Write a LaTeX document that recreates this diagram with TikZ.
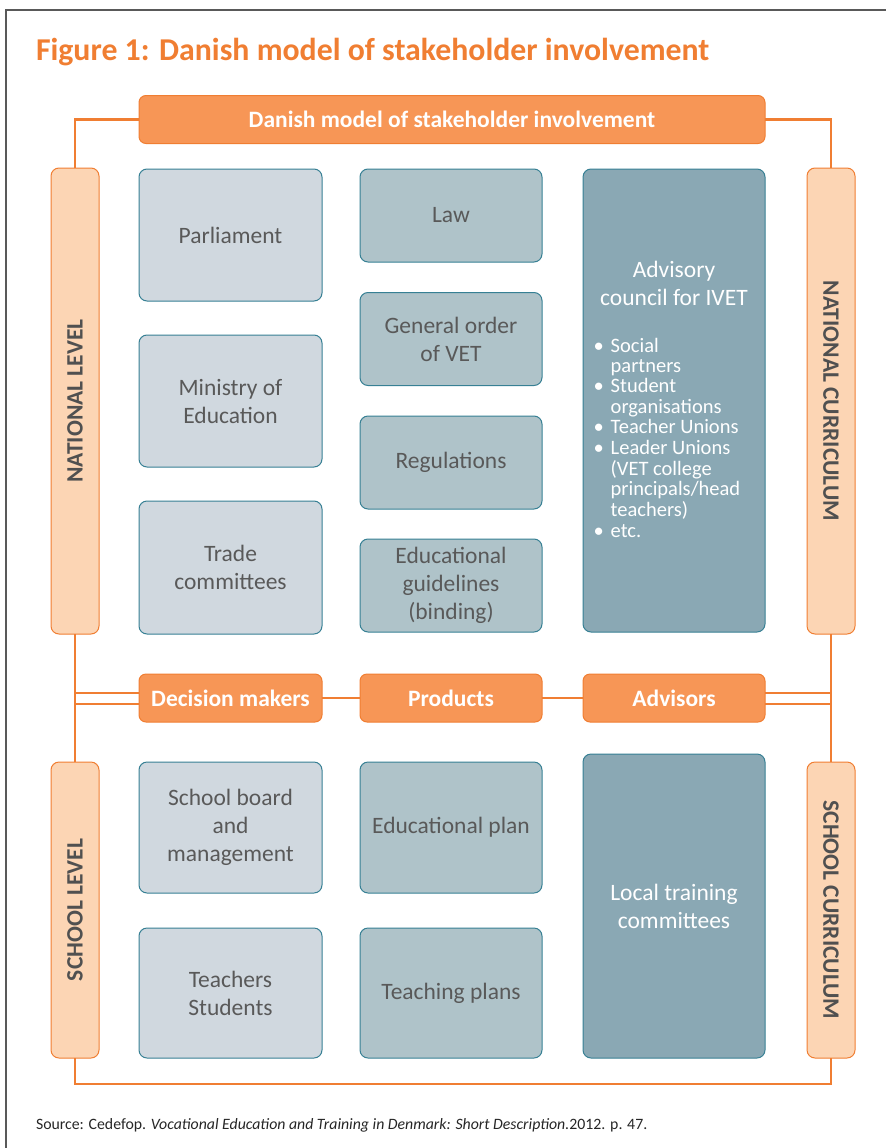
\documentclass[tikz,border=0pt]{standalone}
\usepackage{fontspec}
\setmainfont{Carlito}
\usepackage{graphicx}
\usetikzlibrary{positioning}
\definecolor{figorange}{RGB}{240,126,50}
\definecolor{boxorange}{RGB}{247,150,86}
\definecolor{peach}{RGB}{252,213,180}
\definecolor{paleblue}{RGB}{208,216,223}
\definecolor{midblue}{RGB}{175,195,201}
\definecolor{darkblue}{RGB}{138,168,180}
\definecolor{tealedge}{RGB}{55,128,148}
\definecolor{boxtext}{RGB}{89,89,89}
\definecolor{sidetext}{RGB}{80,80,80}
\newcommand{\fsz}[2]{\fontsize{#1}{#2}\selectfont}

\begin{document}
\begin{tikzpicture}[x=1pt, y=1pt, yscale=-1, every node/.style={outer sep=0pt, inner sep=2pt},
    panel/.style={draw=tealedge, line width=1pt, rounded corners=8pt, align=center, text=boxtext, font=\fsz{23.5}{28}},
    decider/.style={panel, fill=paleblue, minimum width=183pt},
    product/.style={panel, fill=midblue, minimum width=182pt, minimum height=93pt},
    advisor/.style={panel, fill=darkblue, text=white, minimum width=182pt},
    banner/.style={draw=figorange, line width=1pt, fill=boxorange, rounded corners=7pt, text=white, font=\bfseries\fsz{23.5}{26}, minimum height=48pt},
    level/.style={draw=figorange, line width=1pt, fill=peach, rounded corners=8pt, text=sidetext, font=\bfseries\fsz{23.5}{26}, minimum width=48pt},
    link/.style={draw=figorange, line width=2.5pt}]
    \useasboundingbox (0,0) rectangle (886,1148);
    \draw[gray!70!black, line width=1.5pt] (6,1148) -- (6,10) -- (886,10);

    \node[anchor=base west, text=figorange, font=\bfseries\fsz{31.8}{34}] (title) at (34,61) {Figure 1: Danish model of stakeholder involvement};
    \node[banner, minimum width=626pt] (head) at (452,119.5) {Danish model of stakeholder involvement};

    % national level
    \node[level, minimum height=466pt] (natl) at (75,401) {\rotatebox{90}{NATIONAL LEVEL}};
    \node[level, minimum height=466pt] (natc) at (831,401) {\rotatebox{-90}{NATIONAL CURRICULUM}};

    \node[decider, minimum height=132pt] (parl) at (230.5,235) {Parliament};
    \node[decider, minimum height=132pt] (mini) at (230.5,401) {Ministry of\\Education};
    \node[decider, minimum height=133pt] (trade) at (230.5,567.5) {Trade\\committees};

    \node[product] (law) at (451,215.5) {Law};
    \node[product] (gen) at (451,339) {General order\\of VET};
    \node[product] (regs) at (451,462.5) {Regulations};
    \node[product] (guide) at (451,585.5) {Educational\\guidelines\\(binding)};

    \node[advisor, minimum height=463pt] (advc) at (674,400.5) {\begin{tabular}{@{}c@{}}
        Advisory\\ council for IVET\\[24pt]
        {\fsz{20.5}{20.4}\begin{tabular}{@{}p{17pt}@{}l@{}}
            \textbullet & Social\\ & partners\\
            \textbullet & Student\\ & organisations\\
            \textbullet & Teacher Unions\\
            \textbullet & Leader Unions\\ & (VET college\\ & principals/head\\ & teachers)\\
            \textbullet & etc.
        \end{tabular}\hspace{14pt}}
    \end{tabular}};

    % middle row
    \node[banner, minimum width=183pt] (dec) at (230.5,698) {Decision makers};
    \node[banner, minimum width=182pt] (prod) at (451,698) {Products};
    \node[banner, minimum width=182pt] (adv) at (674,698) {Advisors};

    % school level
    \node[level, minimum height=296pt] (schl) at (75,910) {\rotatebox{90}{SCHOOL LEVEL}};
    \node[level, minimum height=296pt] (schc) at (831,910) {\rotatebox{-90}{SCHOOL CURRICULUM}};

    \node[decider, minimum height=131pt] (board) at (230.5,827.5) {School board\\and\\management};
    \node[decider, minimum height=130pt] (teach) at (230.5,993) {Teachers\\Students};
    \node[product, minimum height=131pt] (eplan) at (451,827.5) {Educational plan};
    \node[product, minimum height=130pt] (tplan) at (451,993) {Teaching plans};
    \node[advisor, minimum height=304pt] (local) at (674,906) {Local training\\committees};

    % connectors
    \draw[link] (natl.north) |- (head.west);
    \draw[link] (head.east) -| (natc.north);
    \draw[link] (natl.south) |- ([yshift=6pt]dec.west);
    \draw[link] ([yshift=-5pt]dec.west) -| (schl.north);
    \draw[link] ([yshift=6pt]adv.east) -| (natc.south);
    \draw[link] ([yshift=-5pt]adv.east) -| (schc.north);
    \draw[link, line width=1.5pt] (dec) -- (prod);
    \draw[link, line width=1.5pt] (prod) -- (adv);
    \draw[link] (schl.south) -- ++(0,26) coordinate (foot) -| (schc.south);

    \node[anchor=base west, text=black!85, font=\fsz{15.8}{18}] (source) at (34,1129) {Source: Cedefop. \textit{Vocational Education and Training in Denmark: Short Description.}2012. p. 47.};
\end{tikzpicture}
\end{document}
